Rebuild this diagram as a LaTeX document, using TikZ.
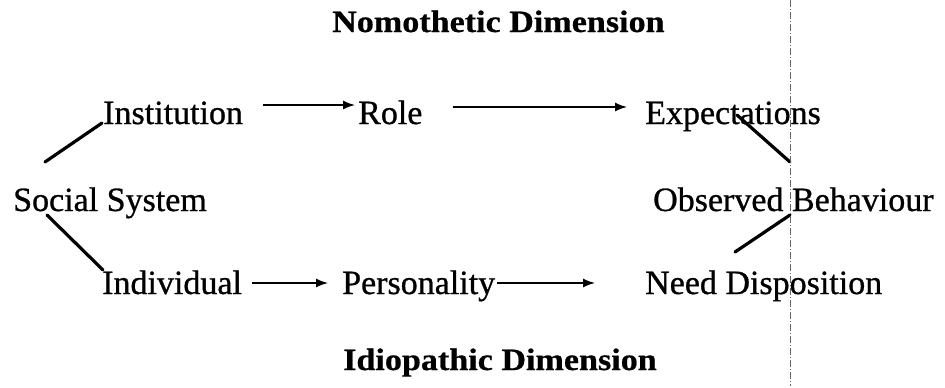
\documentclass[tikz,border=0pt]{standalone}
\usepackage{fontspec}
\setmainfont{Liberation Serif}[FakeBold=1.2]
\newfontfamily\plainfont{Liberation Serif}[FakeBold=0.8]
\newfontfamily\headfont{Liberation Serif Bold}[FakeStretch=1.1, FakeBold=0.6]
\usetikzlibrary{arrows.meta, positioning, calc}
\tikzset{
  every picture/.style={x=1pt, y=-1pt, font=\plainfont\fontsize{34}{40}\selectfont},
  term/.style={inner sep=0pt, anchor=base west},
  title/.style={term, font=\headfont\fontsize{31}{36}\selectfont},
  arrow/.style={-{Latex[length=12pt, width=9pt]}, line width=1.4pt},
  link/.style={line width=3.2pt, line cap=round},
  margin/.style={draw=black!60, line width=0.5pt, dash pattern=on 7pt off 2pt on 1pt off 2pt},
}
\begin{document}
\begin{tikzpicture}
  \useasboundingbox (0,0) rectangle (945,388);
  % titles
  \node[title] (nomo) at (332,32) {Nomothetic Dimension};
  \node[title] (idio) at (343,370) {Idiopathic Dimension};
  % nomothetic row
  \node[term] (inst) at (103,124) {Institution};
  \node[term] (role) at (358,124) {Role};
  \node[term] (expe) at (645,124) {Expectations};
  % middle
  \node[term] (soc) at (13,211) {Social System};
  \node[term] (obs) at (653,211) {Observed Behaviour};
  % idiographic row
  \node[term] (indi) at (102,294) {Individual};
  \node[term] (pers) at (342,294) {Personality};
  \node[term] (need) at (645,294) {Need Disposition};
  % arrows
  \draw[arrow] ([shift={(20,-19)}]inst.base east) -- ([shift={(-3,-19)}]role.base west);
  \draw[arrow] ([shift={(30,-17)}]role.base east) -- ([shift={(-18,-17)}]expe.base west);
  \draw[arrow] ([shift={(10,-11)}]indi.base east) -- ([shift={(-14,-11)}]pers.base west);
  \draw[arrow] ([shift={(2,-11)}]pers.base east) -- ([shift={(-50,-11)}]need.base west);
  % links
  \draw[link] ([shift={(32,-49)}]soc.base west) -- ([shift={(-1,-1)}]inst.base west);
  \draw[link] ([shift={(34,4)}]soc.base west) -- ([shift={(1,-24)}]indi.base west);
  \draw[link] ([shift={(92,-9)}]expe.base west) -- ([shift={(137,-49)}]obs.base west);
  \draw[link] ([shift={(137,4)}]obs.base west) -- ([shift={(90,-42)}]need.base west);
  % page edge
  \draw[margin] (790,0) -- (790,386);
\end{tikzpicture}
\end{document}
